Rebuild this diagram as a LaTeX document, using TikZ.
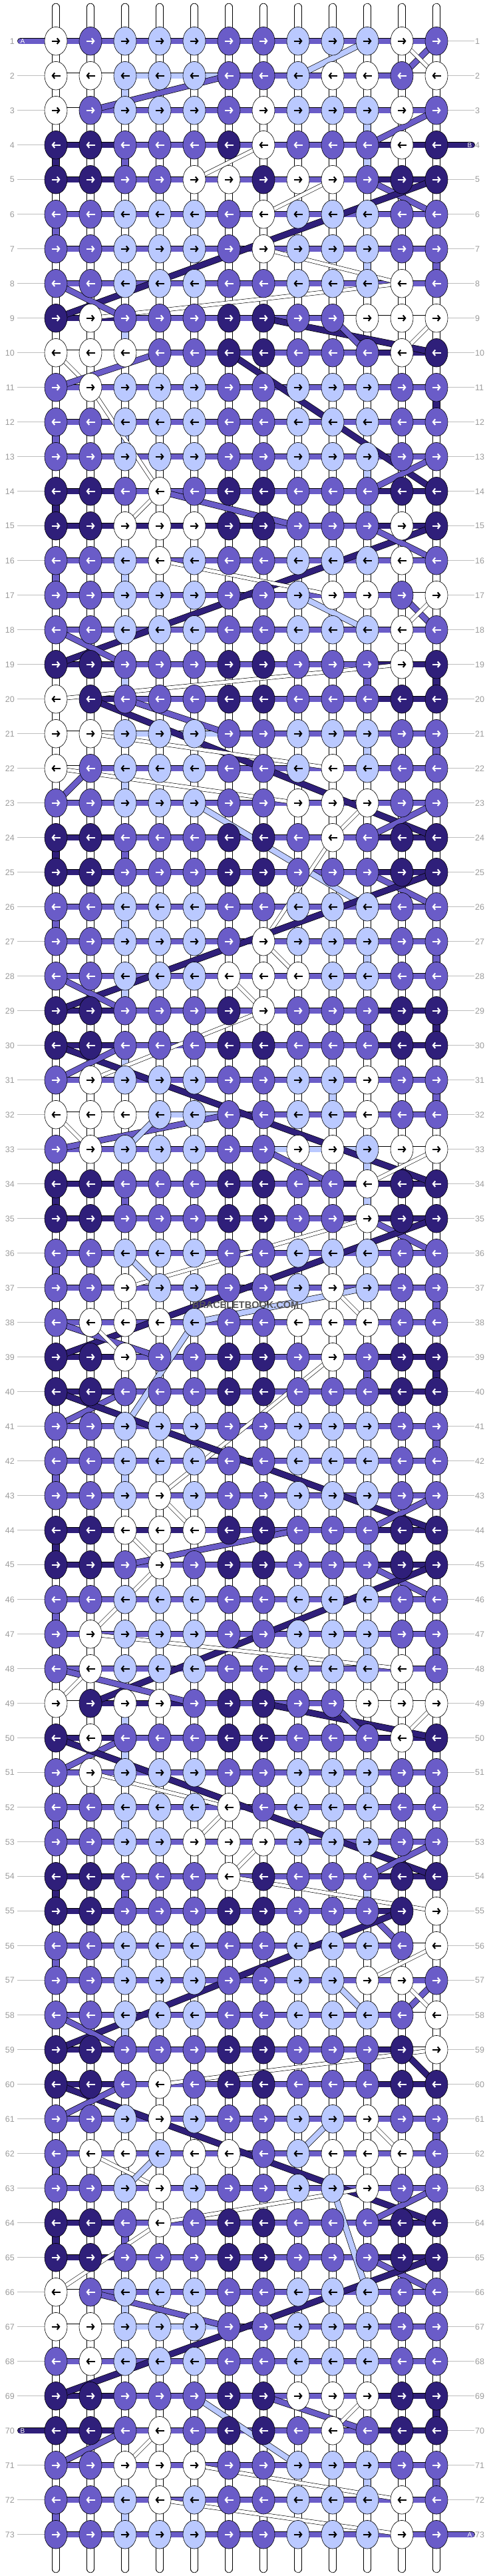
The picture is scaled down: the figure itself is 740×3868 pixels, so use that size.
\documentclass[tikz,border=0pt]{standalone}
\usepackage{fontspec}
\setmainfont{Liberation Sans}
\usetikzlibrary{arrows.meta,shapes.geometric}
\definecolor{cW}{RGB}{255,255,255}
\definecolor{cL}{RGB}{186,201,255}
\definecolor{cM}{RGB}{106,92,200}
\definecolor{cD}{RGB}{47,31,122}
\colorlet{aW}{black}\colorlet{aL}{black}\colorlet{aM}{white}\colorlet{aD}{white}
\definecolor{lblgray}{RGB}{155,155,155}
\definecolor{linegray}{RGB}{190,190,190}
\definecolor{wmgray}{RGB}{85,85,85}
\pgfdeclarelayer{bg}
\pgfsetlayers{bg,main}
\begin{document}
\begin{tikzpicture}[x=1pt,y=-1pt,
 knot/.style={ellipse, draw=black, line width=0.6pt, minimum width=34pt, minimum height=42.6pt, inner sep=0pt},
 arr/.style={line width=2.1pt, -{Straight Barb[length=3.4pt,width=8.6pt]}},
 band/.style={line width=0.7pt, double distance=8pt},
 vline/.style={line width=0.7pt, double distance=10pt},
 dW/.style={line width=0.6pt, double=white, double distance=5pt},
 dL/.style={line width=0.7pt, double=cL, double distance=8pt},
 dM/.style={line width=0.7pt, double=cM, double distance=8pt},
 dD/.style={line width=0.7pt, double=cD, double distance=8.4pt},
 glin/.style={draw=linegray, line width=0.8pt},
 lbl/.style={text=lblgray, font=\fontsize{12.5}{13}\selectfont, inner sep=0pt},
 tabtxt/.style={text=white, font=\fontsize{10}{10}\selectfont, inner sep=0pt}]
\useasboundingbox (0,0) rectangle (740,3868);
% knots
\foreach \r/\ks in {
1/{W,M,L,L,L,M,M,L,L,L,W,M},
2/{W,W,L,L,L,M,M,L,W,W,M,W},
3/{W,M,L,L,L,M,W,L,L,L,W,M},
4/{D,D,M,M,M,D,W,M,M,M,W,D},
5/{D,D,M,M,W,W,D,W,W,M,D,D},
6/{M,M,L,L,L,M,W,L,L,L,M,M},
7/{M,M,L,L,L,M,W,L,L,L,M,M},
8/{M,M,L,L,L,M,M,L,L,L,W,M},
9/{D,W,M,M,M,D,D,M,M,W,W,W},
10/{W,W,W,M,M,D,D,M,M,M,W,D},
11/{M,W,L,L,L,M,M,L,L,L,M,M},
12/{M,M,L,L,L,M,M,L,L,L,M,M},
13/{M,M,L,L,L,M,M,L,L,L,M,M},
14/{D,D,M,W,M,D,D,M,M,M,D,D},
15/{D,D,W,W,W,D,D,M,M,M,W,D},
16/{M,M,L,W,L,M,M,L,L,L,W,M},
17/{M,M,L,L,L,M,M,L,W,W,M,W},
18/{M,M,L,L,L,M,M,L,L,L,W,M},
19/{D,D,M,M,M,D,D,M,M,M,W,D},
20/{W,D,M,M,M,D,D,M,M,M,D,D},
21/{W,W,L,L,L,M,M,L,L,L,M,M},
22/{W,M,L,L,L,M,M,L,W,L,M,M},
23/{M,M,L,L,L,M,M,W,W,W,M,M},
24/{D,D,M,M,M,D,D,M,W,M,D,D},
25/{D,D,M,M,M,D,D,M,M,M,D,D},
26/{M,M,L,L,L,M,M,L,L,L,M,M},
27/{M,M,L,L,L,M,W,L,L,L,M,M},
28/{M,M,L,L,L,W,W,W,L,L,M,M},
29/{D,D,M,M,M,D,W,M,M,M,D,D},
30/{D,D,M,M,M,D,D,M,M,M,D,D},
31/{M,W,L,L,L,M,M,L,L,W,M,M},
32/{W,W,W,L,L,M,M,L,L,W,M,M},
33/{M,W,L,L,L,M,M,W,W,L,W,W},
34/{D,D,M,M,M,D,D,M,M,W,D,D},
35/{D,D,M,M,M,D,D,M,M,W,D,D},
36/{M,M,L,L,L,M,M,L,L,L,M,M},
37/{M,M,W,L,L,M,M,L,W,L,M,M},
38/{M,W,W,W,L,M,M,W,W,W,M,M},
39/{D,D,W,M,M,D,D,M,W,M,D,D},
40/{D,D,M,M,M,D,D,M,M,M,D,D},
41/{M,M,L,L,L,M,M,L,L,L,M,M},
42/{M,M,L,L,L,M,M,L,L,L,M,M},
43/{M,M,L,W,L,M,M,L,L,L,M,M},
44/{D,D,W,W,W,D,D,M,M,M,D,D},
45/{D,D,M,W,M,D,D,M,M,M,D,D},
46/{M,M,L,L,L,M,M,L,L,L,M,M},
47/{M,W,L,L,L,M,M,L,L,L,M,M},
48/{M,W,L,L,L,M,M,L,L,L,W,M},
49/{W,D,W,W,M,D,D,M,M,W,W,W},
50/{D,W,M,M,M,D,D,M,M,M,W,D},
51/{M,W,L,L,L,M,M,L,L,L,M,M},
52/{M,M,L,L,L,W,M,L,L,L,M,M},
53/{M,M,L,L,W,W,W,L,L,L,M,M},
54/{D,D,M,M,M,W,D,M,M,M,D,D},
55/{D,D,M,M,M,D,D,M,M,M,D,W},
56/{M,M,L,L,L,M,M,L,L,L,M,W},
57/{M,M,L,L,L,M,M,L,L,W,W,M},
58/{M,M,L,L,L,M,M,L,L,L,M,W},
59/{D,D,M,M,M,D,D,M,M,M,D,W},
60/{D,D,M,W,M,D,D,M,M,M,D,D},
61/{M,M,L,W,L,M,M,L,L,W,M,M},
62/{M,W,W,L,W,W,M,L,W,W,W,M},
63/{M,M,L,W,L,M,M,L,L,W,M,M},
64/{D,D,M,W,M,D,D,M,M,M,D,D},
65/{D,D,M,M,M,D,D,M,M,M,D,D},
66/{W,M,L,L,L,M,M,L,L,L,M,M},
67/{W,W,L,L,L,M,M,L,L,L,M,M},
68/{M,W,L,L,L,M,M,L,L,L,M,M},
69/{D,D,M,M,M,D,D,W,W,W,D,D},
70/{D,D,M,W,M,D,D,M,W,M,D,D},
71/{M,M,W,W,W,M,M,L,L,L,M,M},
72/{M,M,L,W,L,M,M,L,L,L,W,M},
73/{M,M,L,L,L,M,M,L,L,L,W,M}}{
  \pgfmathsetmacro{\yy}{61.7+52*(\r-1)}
  \pgfmathsetmacro{\dd}{ifthenelse(mod(\r,2)==1,6.5,-6.5)}
  \foreach \k [count=\ci from 0] in \ks {
    \pgfmathsetmacro{\xx}{84+52*\ci}
    \node[knot, fill=c\k] (k\r-\ci) at (\xx,\yy) {};
    \draw[arr, color=a\k] ({\xx-\dd},\yy) -- ({\xx+\dd},\yy);
  }
}
\node[font=\bfseries\fontsize{14.5}{14.5}\selectfont, text=wmgray, inner sep=0pt] (wm) at (369,1959) {BRACELETBOOK.COM};
\begin{pgfonlayer}{bg}
\fill[white] (0,0) rectangle (740,3868);
% row labels and guide lines
\foreach \r in {1,...,73}{
  \pgfmathsetmacro{\yy}{61.7+52*(\r-1)}
  \node[lbl, anchor=east] (ll\r) at (22,\yy) {\r};
  \node[lbl, anchor=west] (lr\r) at (714,\yy) {\r};
  \draw[glin, shorten <=4pt] (ll\r.east) -- (k\r-0.west);
  \draw[glin, shorten >=1pt] (k\r-11.east) -- (lr\r.west);
}
% thread ends
\foreach \c in {0,...,11}{
  \pgfmathsetmacro{\xx}{84+52*\c}
  \coordinate (tt\c) at (\xx,10.5);
  \coordinate (tb\c) at (\xx,3857.5);
  \draw[vline, double=white, line cap=round] (tt\c) -- (k1-\c.center);
  \draw[vline, double=white, line cap=round] (k73-\c.center) -- (tb\c);
}
% vertical connectors
\foreach \r in {1,...,72}{
  \pgfmathtruncatemacro{\rr}{\r+1}
  \foreach \c in {0,...,11}{\draw[vline, double=white] (k\r-\c.center) -- (k\rr-\c.center);}
}
\foreach \r/\c/\k in {2/2/L, 3/9/L, 4/9/L, 4/0/D, 4/2/M, 6/0/M, 7/9/L, 7/11/M, 9/2/L, 11/11/D, 12/0/M, 12/2/L, 13/9/L, 14/0/D, 14/9/L, 16/0/M, 16/2/L, 19/2/L, 19/9/M, 19/11/D, 21/9/L, 21/11/M, 22/2/L, 24/0/D, 24/2/M, 26/0/M, 26/2/L, 27/9/L, 27/11/M, 28/2/L, 29/9/M, 29/11/D, 30/2/L, 31/8/L, 31/11/M, 33/9/L, 34/0/D, 34/2/M, 34/9/L, 36/0/M, 37/11/M, 39/9/M, 39/11/D, 41/11/M, 42/0/M, 42/2/L, 44/0/D, 44/9/L, 46/0/M, 47/9/L, 47/11/M, 49/2/L, 50/2/L, 51/9/L, 51/11/M, 52/0/M, 52/2/L, 54/0/D, 54/2/M, 54/9/L, 56/0/M, 56/2/L, 58/2/L, 59/9/M, 61/11/M, 62/0/M, 64/0/D, 64/2/M, 66/2/L, 69/11/D, 71/9/L, 71/11/M, 72/0/M, 72/2/L}{
  \pgfmathtruncatemacro{\rr}{\r+1}
  \draw[vline, double=c\k] (k\r-\c.center) -- (k\rr-\c.center);
}
% horizontal bands
\foreach \r in {1,...,73}{
  \foreach \j in {0,...,10}{
    \pgfmathtruncatemacro{\jj}{\j+1}
    \draw[band, double=cM] (k\r-\j.center) -- (k\r-\jj.center);
  }
}
\foreach \r in {4,5,9,10,14,15,19,20,24,25,29,30,34,35,39,40,44,45,49,50,54,55,59,60,64,65,69,70}{
  \foreach \j in {0,1,9,10}{
    \pgfmathtruncatemacro{\jj}{\j+1}
    \draw[band, double=cD] (k\r-\j.center) -- (k\r-\jj.center);
  }
}
\foreach \r/\j/\k in {2/0/W, 2/1/W, 2/2/L, 2/3/L, 2/4/L, 2/10/W, 3/0/W, 9/8/W, 9/9/W, 9/10/W, 10/0/W, 10/1/W, 10/2/W, 15/2/D, 15/3/D, 15/4/D, 15/5/D, 17/10/W, 20/0/W, 21/0/W, 21/1/W, 21/2/L, 21/3/L, 21/4/L, 22/0/W, 32/0/W, 32/1/W, 32/2/W, 32/3/L, 32/4/L, 33/6/L, 33/7/L, 33/8/L, 33/9/W, 33/10/W, 34/8/D, 35/8/D, 44/2/D, 44/3/D, 49/0/W, 49/2/D, 49/3/D, 49/8/W, 49/9/W, 49/10/W, 55/10/W, 56/10/W, 58/10/W, 59/10/W, 66/0/W, 67/0/W, 67/1/W, 67/2/L, 67/3/L, 67/4/L}{
  \pgfmathtruncatemacro{\jj}{\j+1}
  \draw[band, double=c\k] (k\r-\j.center) -- (k\r-\jj.center);
}
% carrier tabs
\coordinate (tabA1) at (30.7,61.7);
\coordinate (tabB4) at (709.3,217.7);
\coordinate (tabB70) at (30.7,3649.7);
\coordinate (tabA73) at (709.3,3805.7);
\draw[band, double=cM, line cap=round] (tabA1) -- (k1-0.center);
\draw[band, double=cD, line cap=round] (k4-11.center) -- (tabB4);
\draw[band, double=cD, line cap=round] (tabB70) -- (k70-0.center);
\draw[band, double=cM, line cap=round] (k73-11.center) -- (tabA73);
\node[tabtxt] (tA1) at (34,61.7) {A};
\node[tabtxt] (tB4) at (706,217.7) {B};
\node[tabtxt] (tB70) at (34,3649.7) {B};
\node[tabtxt] (tA73) at (706,3805.7) {A};
% diagonal strings
\foreach \ra/\ca/\rb/\cb/\k in {
1/9/2/7/L, 1/11/2/10/M, 1/10/2/11/W, 3/1/2/5/M, 3/11/4/9/M, 4/6/5/4/W, 5/8/6/6/W, 5/9/6/11/M, 5/11/9/0/D,
7/6/8/10/W, 8/10/9/1/W, 8/0/9/2/M, 9/6/10/11/D, 9/8/10/9/M, 9/11/10/10/W, 10/0/11/1/W, 11/0/10/3/M, 10/5/14/11/D,
11/1/14/3/W, 14/3/15/2/W, 14/3/15/7/M, 14/9/13/11/M, 15/11/19/0/D, 15/9/16/11/M, 16/3/17/8/W, 17/7/18/9/L,
17/10/18/11/M, 17/11/18/10/W, 18/0/19/2/M, 19/10/20/0/W, 20/1/24/11/D, 20/2/21/5/M, 21/1/22/8/W, 22/0/23/7/W,
23/0/22/1/M, 23/4/26/9/L, 23/9/24/8/W, 24/9/23/11/M, 24/8/27/6/W, 25/9/26/11/M, 25/11/29/0/D, 27/6/28/7/W,
28/5/29/6/W, 28/0/29/2/M, 29/6/31/1/W, 30/0/34/11/D, 31/0/30/2/M, 33/0/32/5/M, 32/3/33/2/L, 32/0/33/1/W,
33/6/34/8/M, 33/11/34/9/W, 35/9/37/2/W, 35/9/36/11/M, 35/11/39/0/D, 36/2/37/3/L, 38/4/37/9/L, 37/8/38/9/W,
38/4/41/2/L, 38/0/39/3/M, 38/1/39/2/W, 39/8/43/3/W, 41/0/40/2/M, 40/0/44/11/D, 43/11/44/9/M, 43/3/44/4/W,
44/2/45/3/W, 45/2/44/7/M, 45/3/47/1/W, 45/9/46/11/M, 45/11/49/1/D, 47/1/48/10/W, 48/0/49/4/M, 48/1/49/0/W,
49/6/50/11/D, 49/8/50/9/M, 49/11/50/10/W, 51/0/50/2/M, 50/0/54/11/D, 51/1/52/5/W, 52/5/53/4/W, 53/11/54/9/M,
53/6/54/5/W, 54/5/55/11/W, 55/9/56/10/M, 55/10/59/0/D, 56/11/57/9/W, 57/8/58/9/L, 58/10/57/11/M, 57/10/58/11/W,
58/0/59/2/M, 59/11/60/3/W, 59/10/60/11/D, 60/0/64/11/D, 61/0/60/2/M, 61/8/62/7/L, 61/9/62/10/W, 62/1/63/3/W,
63/2/62/3/L, 63/9/64/3/W, 64/3/66/0/W, 63/8/66/9/L, 64/9/63/11/M, 65/9/66/11/M, 65/11/69/0/D, 66/1/67/5/M,
69/4/71/7/L, 69/6/70/9/M, 69/9/70/8/W, 71/0/70/2/M, 70/3/71/2/W, 71/4/72/10/W, 72/3/73/10/W}{
  \draw[d\k] (k\ra-\ca.center) -- (k\rb-\cb.center);
}
\end{pgfonlayer}
\end{tikzpicture}
\end{document}
